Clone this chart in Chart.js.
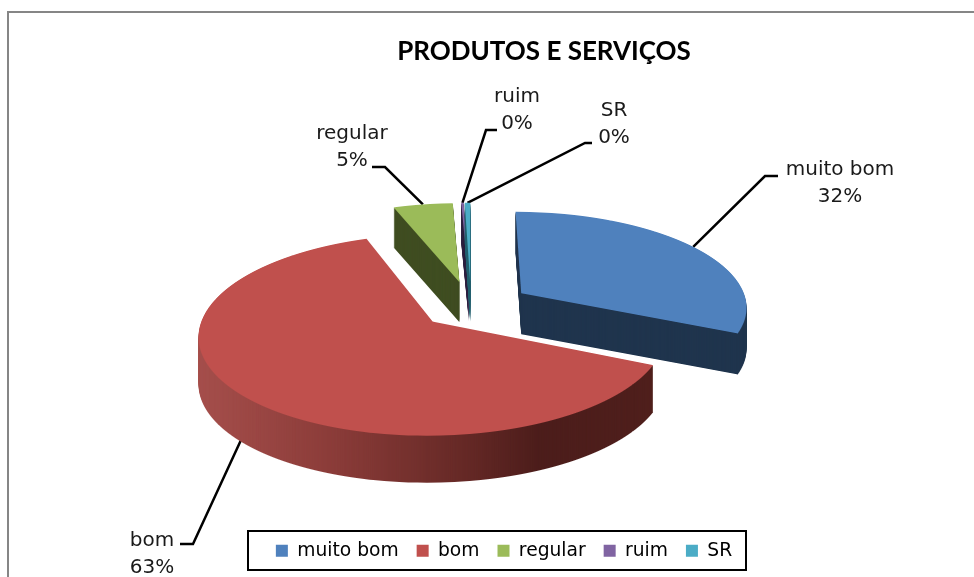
<!DOCTYPE html>
<html>
<head>
<meta charset="utf-8">
<title>PRODUTOS E SERVIÇOS</title>
<script src="https://cdn.jsdelivr.net/npm/chart.js@4/dist/chart.umd.min.js"></script>
<style>
    html, body { margin: 0; padding: 0; background: #fff; overflow: hidden; }
    canvas { display: block; }
</style>
</head>
<body>
<canvas id="pieChart" width="974" height="577"></canvas>
<script>
// Data
const categories = ['muito bom', 'bom', 'regular', 'ruim', 'SR'];
const shares = [31.8, 62.6, 4.9, 0.2, 0.45];

// Slice styles
const faceColors = ['#4f81bd', '#c0504d', '#9bbb59', '#8064a2', '#4bacc6'];
const sideColors = ['#1f344d', null, '#3f4d21', '#2c2040', '#23606f'];
const redSideStops = [[0, '#a64f4c'], [0.3, '#8b3c39'], [0.6, '#642825'], [0.75, '#4c1d1b'], [1, '#4f1f1c']];
const explosion = [63, 53, 64, 64, 64];
const depth = [41, 47, 40, 40, 40];
const drawOrder = [2, 3, 4, 0, 1];

// Fake 3D: perspective of the pie plane
const pieRadius = 235;
const squash = 0.405;
const perspective = 0.00055;
const stretchX = 0.965;

// Label text centres and leader elbows
const labelCentres = [[840, 170], [152, 541], [352, 134], [517, 97], [614, 111]];
const labelLineGap = 27;
const leaderElbows = [[[765, 176], [778, 176]], [[193, 544], [180, 544]], [[385, 167], [372, 167]], [[486, 130], [497, 130]], [[585, 143], [592, 143]]];
const leaderNudge = [0, -0.08, 0, 0, 0]; // radians off the slice middle

const labelFont = '20px "DejaVu Sans"';

// local pie plane -> screen
function project(cx, cy, x, y) {
    const w = 1 / (1 - perspective * y);
    return [cx + stretchX * x * w, cy + squash * y * w];
}

// draws one arc element into ctx, row by row, through the perspective above
function renderSlice(ctx, arc, H) {
    const mid = (arc.startAngle + arc.endAngle) / 2;
    const ex = Math.cos(mid) * arc.$explode;
    const ey = Math.sin(mid) * arc.$explode;
    const localY = (sy) => (sy - arc.y) / (squash + perspective * (sy - arc.y));
    for (let row = 0; row < H; row++) {
        const y0 = localY(row);
        const y1 = localY(row + 1);
        const w = stretchX / (1 - perspective * (y0 + y1) / 2);
        const m = 1 / (y1 - y0);
        ctx.save();
        ctx.beginPath();
        ctx.rect(0, row, ctx.canvas.width, 1);
        ctx.clip();
        ctx.setTransform(w, 0, 0, m, arc.x + w * (ex - arc.x), row + m * (ey - arc.y - y0));
        arc.draw(ctx);
        ctx.restore();
    }
}

const pie3d = {
    id: 'pie3d',
    beforeDraw(chart) {
        const ctx = chart.ctx;
        ctx.save();
        ctx.fillStyle = '#fff';
        ctx.fillRect(0, 0, chart.width, chart.height);
        // chart frame, cut off at the right and bottom in the picture
        ctx.strokeStyle = '#868686';
        ctx.lineWidth = 2;
        ctx.beginPath();
        ctx.moveTo(8, chart.height);
        ctx.lineTo(8, 12);
        ctx.lineTo(chart.width, 12);
        ctx.stroke();
        ctx.restore();
    },
    afterLayout(chart) {
        // title and legend are not centred on the canvas in the picture
        chart.titleBlock.left += 73;
        chart.titleBlock.right += 73;
        chart.legend.left += 33;
        chart.legend.right += 33;
        chart.legend.top -= 7;
        chart.legend.bottom -= 7;
    },
    beforeDatasetsDraw(chart) {
        const ctx = chart.ctx;
        const arcs = chart.getDatasetMeta(0).data;

        // leader lines go first, the slices cover their ends
        ctx.save();
        ctx.strokeStyle = '#000';
        ctx.lineWidth = 2.5;
        arcs.forEach((arc, i) => {
            const mid = (arc.startAngle + arc.endAngle) / 2 + leaderNudge[i];
            const r = pieRadius + explosion[i];
            const p = project(arc.x, arc.y, Math.cos(mid) * r, Math.sin(mid) * r);
            ctx.beginPath();
            ctx.moveTo(p[0], p[1]);
            leaderElbows[i].forEach(e => ctx.lineTo(e[0], e[1]));
            ctx.stroke();
        });
        ctx.restore();

        drawOrder.forEach(i => {
            const arc = arcs[i];
            arc.$explode = explosion[i];
            const face = document.createElement('canvas');
            face.width = chart.width;
            face.height = chart.height;
            const fctx = face.getContext('2d');
            renderSlice(fctx, arc, chart.height);

            const side = document.createElement('canvas');
            side.width = chart.width;
            side.height = chart.height;
            const sctx = side.getContext('2d');
            sctx.drawImage(face, 0, 0);
            sctx.globalCompositeOperation = 'source-in';
            if (sideColors[i]) {
                sctx.fillStyle = sideColors[i];
            } else {
                const g = sctx.createLinearGradient(195, 0, 653, 0);
                redSideStops.forEach(s => g.addColorStop(s[0], s[1]));
                sctx.fillStyle = g;
            }
            sctx.fillRect(0, 0, chart.width, chart.height);

            for (let d = depth[i]; d > 0; d--) {
                ctx.drawImage(side, 0, d);
            }
            ctx.drawImage(face, 0, 0);
        });
        return false;
    },
    afterDraw(chart) {
        const ctx = chart.ctx;
        const total = shares.reduce((a, b) => a + b, 0);
        ctx.save();
        ctx.font = labelFont;
        ctx.fillStyle = '#1a1a1a';
        ctx.textAlign = 'center';
        ctx.textBaseline = 'middle';
        categories.forEach((c, i) => {
            const pos = labelCentres[i];
            ctx.fillText(c, pos[0], pos[1]);
            ctx.fillText(Math.round(shares[i] / total * 100) + '%', pos[0], pos[1] + labelLineGap);
        });
        // legend box
        ctx.strokeStyle = '#000';
        ctx.lineWidth = 2;
        ctx.strokeRect(248, 531, 498, 39);
        ctx.restore();
    }
};

new Chart(document.getElementById('pieChart').getContext('2d'), {
    type: 'pie',
    data: {
        labels: categories,
        datasets: [{
            data: shares,
            backgroundColor: faceColors,
            borderWidth: 0,
            radius: pieRadius
        }]
    },
    options: {
        responsive: false,
        animation: false,
        layout: { padding: { top: 12, left: 0, right: 32, bottom: 0 } },
        plugins: {
            tooltip: { enabled: false },
            title: {
                display: true,
                text: 'PRODUTOS E SERVIÇOS',
                color: '#000',
                font: { family: 'Lato', size: 26, weight: 'bold' },
                padding: { top: 24, bottom: 16 }
            },
            legend: {
                position: 'bottom',
                labels: {
                    color: '#000',
                    font: { family: 'DejaVu Sans', size: 18.7 },
                    boxWidth: 12,
                    boxHeight: 12,
                    padding: 18
                }
            }
        }
    },
    plugins: [pie3d]
});
</script>
</body>
</html>
